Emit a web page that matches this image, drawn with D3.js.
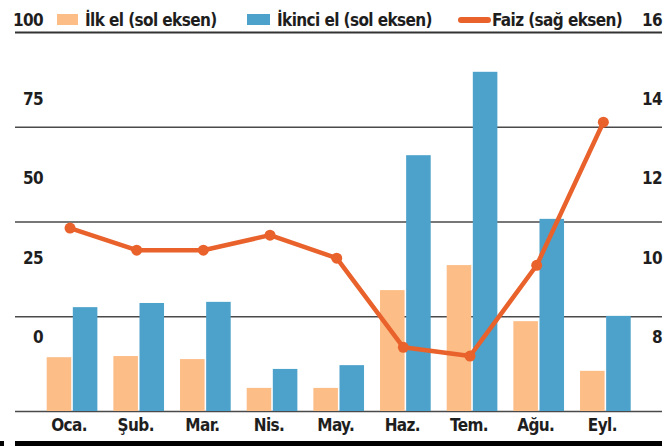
<!DOCTYPE html>
<html>
<head>
<meta charset="utf-8">
<script src="https://cdn.jsdelivr.net/npm/d3@7/dist/d3.min.js"></script>
<style>
    body { margin: 0; background: #fff; }
    svg text { font-family: "Liberation Sans Narrow", "DejaVu Sans Condensed", "Roboto", sans-serif; font-weight: bold; letter-spacing: -0.6px; fill: #1e1e1e; }
</style>
</head>
<body>
<svg id="chart" width="672" height="446"></svg>
<script>
/*global d3*/
(function () {
    "use strict";

    // data (2020, monthly)
    var months      = ["Oca.", "Şub.", "Mar.", "Nis.", "May.", "Haz.", "Tem.", "Ağu.", "Eyl."],
        ilkEl       = [14.2, 14.5, 13.7, 6.1, 6.1, 31.9, 38.5, 23.7, 10.6],
        ikinciEl    = [27.4, 28.5, 28.8, 11.1, 12.1, 67.5, 89.5, 50.7, 25.1],
        faiz        = [10.75, 10.19, 10.19, 10.57, 9.99, 7.74, 7.52, 9.81, 13.42],
        leftTicks   = [0, 25, 50, 75, 100],
        rightTicks  = [8, 10, 12, 14, 16];

    var colIlk = "#fcbd87",
        colIkinci = "#4da2cb",
        colFaiz = "#e9612b";

    var svg = d3.select("#chart");

    var x = d3.scaleBand().domain(months).range([38.7, 638.7]).paddingInner(0.24).paddingOuter(0.12),
        x1 = d3.scaleBand().domain(["ilk", "ikinci"]).range([0, x.bandwidth()]).paddingInner(0.06),
        yLeft = d3.scaleLinear().domain([0, 100]).range([411, 32]),
        // the printed tick labels do not sit on the grid lines, so they get their own scale
        yLabel = d3.scaleLinear().domain([0, 100]).range([337, 20]),
        yRight = d3.scaleLinear().domain([8, 16]).range([337, 20]);

    // grid lines
    svg.append("g")
        .attr("class", "grid")
        .attr("transform", "translate(15,0)")
        .call(d3.axisLeft(yLeft).tickValues(leftTicks).tickSize(-647).tickFormat(""))
        .call(function (g) {
            g.select(".domain").remove();
            g.selectAll("line").attr("stroke", "#4a4a4a").attr("stroke-width", 1.6);
            g.selectAll(".tick").filter(function (d) { return d === 100; })
                .select("line").attr("stroke", "#333").attr("stroke-width", 2);
        });

    // bars
    var groups = svg.append("g").selectAll("g")
        .data(months)
        .join("g")
        .attr("transform", function (d) { return "translate(" + x(d) + ",0)"; });

    groups.append("rect")
        .attr("x", x1("ilk"))
        .attr("width", x1.bandwidth())
        .attr("y", function (d, i) { return yLeft(ilkEl[i]); })
        .attr("height", function (d, i) { return yLeft(0) - yLeft(ilkEl[i]); })
        .attr("fill", colIlk);

    groups.append("rect")
        .attr("x", x1("ikinci"))
        .attr("width", x1.bandwidth())
        .attr("y", function (d, i) { return yLeft(ikinciEl[i]); })
        .attr("height", function (d, i) { return yLeft(0) - yLeft(ikinciEl[i]); })
        .attr("fill", colIkinci);

    // faiz line
    var cx = function (d, i) { return x(months[i]) + x.bandwidth() / 2 - 2; };
    var line = d3.line()
        .x(cx)
        .y(function (d) { return yRight(d); });

    svg.append("path")
        .datum(faiz)
        .attr("d", line)
        .attr("fill", "none")
        .attr("stroke", colFaiz)
        .attr("stroke-width", 4.5)
        .attr("stroke-linejoin", "round");

    svg.append("g").selectAll("circle")
        .data(faiz)
        .join("circle")
        .attr("cx", cx)
        .attr("cy", function (d) { return yRight(d); })
        .attr("r", 5.5)
        .attr("fill", colFaiz);

    // axes text
    function styleText(g) {
        g.select(".domain").remove();
        g.selectAll("text").attr("font-size", 17).attr("fill", "#1e1e1e");
    }

    svg.append("g")
        .attr("transform", "translate(43,0)")
        .call(d3.axisLeft(yLabel).tickValues(leftTicks).tickSize(0).tickPadding(0))
        .call(styleText);

    svg.append("g")
        .attr("transform", "translate(662,0)")
        .call(d3.axisLeft(yRight).tickValues(rightTicks).tickSize(0).tickPadding(0))
        .call(styleText);

    svg.append("g")
        .attr("transform", "translate(-3,411)")
        .call(d3.axisBottom(x).tickSize(0).tickPadding(8))
        .call(styleText);

    // legend
    var legend = svg.append("g").attr("font-size", 17);
    legend.append("rect").attr("x", 57).attr("y", 14).attr("width", 21).attr("height", 11).attr("fill", colIlk);
    legend.append("text").attr("x", 85).attr("y", 20).attr("dy", "0.35em").text("İlk el (sol eksen)");
    legend.append("rect").attr("x", 247).attr("y", 14).attr("width", 23).attr("height", 11).attr("fill", colIkinci);
    legend.append("text").attr("x", 277).attr("y", 20).attr("dy", "0.35em").text("İkinci el (sol eksen)");
    legend.append("line").attr("x1", 461).attr("x2", 488).attr("y1", 20).attr("y2", 20)
        .attr("stroke", colFaiz).attr("stroke-width", 6).attr("stroke-linecap", "round");
    legend.append("text").attr("x", 492).attr("y", 20).attr("dy", "0.35em").text("Faiz (sağ eksen)");

    // bottom rule
    svg.append("rect").attr("x", 15).attr("y", 441).attr("width", 647).attr("height", 5).attr("fill", "#000");
    svg.append("rect").attr("x", 0).attr("y", 441).attr("width", 4).attr("height", 5).attr("fill", "#000");
}());
</script>
</body>
</html>
